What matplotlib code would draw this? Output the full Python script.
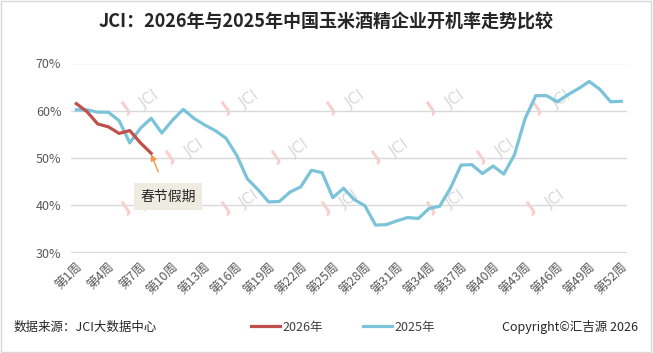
import matplotlib
matplotlib.use("Agg")
import matplotlib.pyplot as plt
from matplotlib.patches import Rectangle

plt.rcParams['font.family'] = ['Noto Sans CJK SC', 'DejaVu Sans']

weeks = list(range(1, 53))
tick_weeks = list(range(1, 53, 3))
tick_labels = [f"第{w}周" for w in tick_weeks]

rate_2026 = [61.5, 59.8, 57.2, 56.6, 55.2, 55.8, 53.2, 51.0]
rate_2025 = [60.2, 60.2, 59.7, 59.7, 57.9, 53.2, 56.3, 58.4, 55.3, 58.0,
             60.3, 58.4, 57.0, 55.8, 54.2, 50.6, 45.6, 43.3, 40.7, 40.8,
             42.8, 43.9, 47.4, 46.9, 41.6, 43.6, 41.2, 39.9, 35.8, 35.9,
             36.7, 37.4, 37.2, 39.3, 39.8, 43.6, 48.5, 48.6, 46.7, 48.3,
             46.6, 50.7, 58.4, 63.2, 63.2, 61.9, 63.4, 64.7, 66.2, 64.5,
             61.9, 62.0]
yticks = [30, 40, 50, 60, 70]
series_names = ["2026年", "2025年"]
colors = ["#c0504d", "#7bc3d8"]

fig = plt.figure(figsize=(6.53, 3.53), dpi=100)
ax = fig.add_axes([71/653, 1-252.5/353, (626.7-71)/653, (252.5-63.5)/353])

# border
fig.patches.append(Rectangle((0.002, 0.003), 0.995, 0.994, transform=fig.transFigure,
                             fill=False, edgecolor="#d9d9d9", linewidth=1))

# watermarks (decoration)
wm_pos = []
for x in [0.13, 0.31, 0.50, 0.68, 0.87]:
    wm_pos.append((x, 0.80))
for x in [0.21, 0.40, 0.58, 0.77]:
    wm_pos.append((x, 0.54))
for x in [0.13, 0.31, 0.49, 0.68, 0.86]:
    wm_pos.append((x, 0.27))
for (x, y) in wm_pos:
    ax.text(x + 0.012, y + 0.01, "JCI", transform=ax.transAxes, rotation=35,
            fontsize=11, color="#d9d9d9", ha="center", va="center", zorder=0,
            family="DejaVu Sans")
    ax.text(x - 0.03, y - 0.035, "J", transform=ax.transAxes, rotation=35,
            fontsize=11, color="#fbcaca", ha="center", va="center", zorder=0,
            fontweight="bold", family="DejaVu Sans")

ax.plot(weeks[:len(rate_2026)], rate_2026, color=colors[0], lw=2.3,
        label=series_names[0], zorder=3, solid_joinstyle="round")
ax.plot(weeks, rate_2025, color=colors[1], lw=2.3, label=series_names[1],
        zorder=2, solid_joinstyle="round")

ax.set_xlim(0.5, 52.5)
ax.set_ylim(30, 70)
ax.set_yticks(yticks)
ax.set_yticklabels([f"{v}%" for v in yticks])
ax.set_xticks(tick_weeks)
ax.set_xticklabels(tick_labels, rotation=45, ha="right", va="top",
                   rotation_mode="anchor")
ax.tick_params(axis="both", length=0, labelsize=9, labelcolor="#595959")
ax.tick_params(axis="x", pad=6)
ax.tick_params(axis="y", pad=7)
for s in ax.spines.values():
    s.set_visible(False)
ax.grid(axis="y", color="#d9d9d9", linewidth=1)
ax.set_axisbelow(True)

# annotation
ax.annotate("春节假期", xy=(weeks[len(rate_2026)-1], rate_2026[-1] - 0.2),
            xytext=(9.6, 41.8), fontsize=10, color="#262626",
            ha="center", va="center",
            bbox=dict(boxstyle="square,pad=0.45", fc="#eeece1", ec="none"),
            arrowprops=dict(arrowstyle="-|>", color="#f79646", lw=1,
                            shrinkA=9, shrinkB=0, mutation_scale=9))

fig.text(0.5, 1 - 22/353, "JCI：2026年与2025年中国玉米酒精企业开机率走势比较",
         ha="center", va="center", fontsize=13, fontweight="bold", color="#262626")

leg = fig.legend(loc="center", bbox_to_anchor=(0.525, 1 - 327/353), ncol=2,
                 frameon=False, fontsize=9, handlelength=2.3, handletextpad=0.2,
                 columnspacing=3.2)
for t in leg.get_texts():
    t.set_color("#404040")

fig.text(14/653, 1 - 327/353, "数据来源：JCI大数据中心", ha="left", va="center",
         fontsize=9, color="#262626")
fig.text(638/653, 1 - 327/353, "Copyright©汇吉源 2026", ha="right", va="center",
         fontsize=9, color="#262626")

fig.savefig("out.png", dpi=100)
